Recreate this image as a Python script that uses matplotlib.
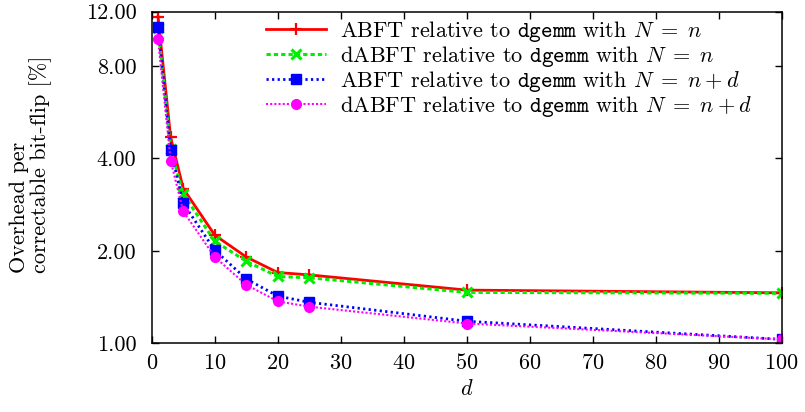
import numpy as np
import matplotlib.pyplot as plt
from matplotlib.ticker import FixedLocator, FormatStrFormatter, NullLocator

plt.rcParams['font.family'] = 'serif'
plt.rcParams['font.serif'] = ['cmr10']
plt.rcParams['mathtext.fontset'] = 'cm'
plt.rcParams['axes.formatter.use_mathtext'] = True

# block size d and overhead per correctable bit-flip in percent
d_vals = [1, 3, 5, 10, 15, 20, 25, 50, 100]
abft_n = [11.56, 4.68, 3.19, 2.25, 1.91, 1.70, 1.67, 1.49, 1.46]
dabft_n = [10.6, 4.30, 3.06, 2.15, 1.85, 1.65, 1.635, 1.465, 1.455]
abft_nd = [10.72, 4.26, 2.855, 2.01, 1.62, 1.425, 1.36, 1.18, 1.03]
dabft_nd = [9.76, 3.93, 2.69, 1.91, 1.55, 1.37, 1.316, 1.16, 1.03]

labels = [r'ABFT relative to $\mathtt{dgemm}$ with $N\;=\;n$',
          r'dABFT relative to $\mathtt{dgemm}$ with $N\;=\;n$',
          r'ABFT relative to $\mathtt{dgemm}$ with $N\;=\;n\:+\:d$',
          r'dABFT relative to $\mathtt{dgemm}$ with $N\;=\;n\:+\:d$']
y_ticks = [1, 2, 4, 8, 12]
x_ticks = list(range(0, 101, 10))

fig = plt.figure(figsize=(8.05, 4.12), dpi=100)
ax = fig.add_axes([0.1885, 0.1667, 0.7825, 0.8049])

ax.plot(d_vals, abft_n, color='#ff0000', lw=2.0, ls='-', marker='+',
        ms=8, mew=1.6, label=labels[0])
ax.plot(d_vals, dabft_n, color='#00ee00', lw=2.2, ls=(0, (1.4, 1.0)), marker='x',
        ms=6.5, mew=2.2, label=labels[1])
ax.plot(d_vals, abft_nd, color='#0000ff', lw=2.0, ls=(0, (0.8, 1.2)), marker='s',
        ms=7, label=labels[2])
ax.plot(d_vals, dabft_nd, color='#ff00ff', lw=1.5, ls=(0, (1.0, 1.0)), marker='o',
        ms=7, label=labels[3])

ax.set_yscale('log')
ax.set_xlim(0, 100)
ax.set_ylim(1, 12)
ax.yaxis.set_major_locator(FixedLocator(y_ticks))
ax.yaxis.set_minor_locator(NullLocator())
ax.yaxis.set_major_formatter(FormatStrFormatter('%.2f'))
ax.set_xticks(x_ticks)
ax.tick_params(which='both', direction='in', top=True, right=True,
               length=5, width=1, labelsize=16)
ax.tick_params(axis='y', pad=11)
ax.tick_params(axis='x', pad=7)
for s in ax.spines.values():
    s.set_linewidth(1.1)

ax.set_xlabel('$d$', fontsize=16, labelpad=4)
fig.text(0.0385, 1 - 164 / 412, 'Overhead per\ncorrectable bit-flip [%]',
         rotation=90, ha='center', va='center', fontsize=16,
         linespacing=1.0, multialignment='left')

ax.legend(loc='upper left', bbox_to_anchor=(0.182, 0.979), frameon=False,
          fontsize=16, numpoints=1, handlelength=2.7, handletextpad=0.6,
          labelspacing=0.0, borderpad=0, borderaxespad=0)

fig.savefig('out.png', dpi=100)
